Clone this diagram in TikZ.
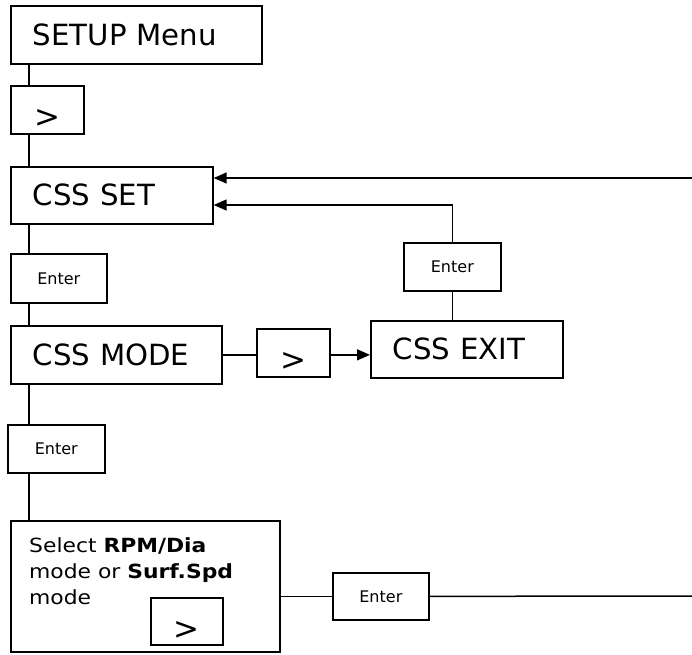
\documentclass[tikz,border=0pt]{standalone}
\usepackage{fontspec}
\setmainfont{DejaVu Sans}
\newfontfamily\selfont[FakeStretch=1.12]{DejaVu Sans}
\usetikzlibrary{arrows.meta}
\tikzset{
  box/.style={draw, line width=1.7pt, anchor=north west, inner ysep=0pt, align=left},
  bigbox/.style={box, font=\fontsize{29.2}{31}\selectfont, text height=21pt, text depth=0pt, inner xsep=22pt},
  gtbox/.style={box, font=\fontsize{31}{33}\selectfont, align=center, inner xsep=0pt, text height=36pt, text depth=0pt},
  enterbox/.style={box, font=\fontsize{16}{18}\selectfont, align=center, inner xsep=0pt, text height=11.5pt, text depth=0pt},
  conn/.style={line width=1.5pt},
  arr/.style={conn, -{Triangle[length=13pt,width=11pt]}}
}
\begin{document}
\begin{tikzpicture}[x=1pt,y=-1pt]
\useasboundingbox (0,0) rectangle (692,654);
\coordinate (xl) at (29,0);
\coordinate (r1) at (692,178);
\coordinate (r2) at (692,596);
\coordinate (ret) at (0,205);
% boxes
\node[bigbox, text width=207pt, minimum height=58pt] (setup) at (10,5) {SETUP Menu};
\node[gtbox, text width=73pt, minimum height=48pt] (gt1) at (10,85) {>};
\node[bigbox, text width=158pt, minimum height=57pt] (cssset) at (10,166) {CSS SET};
\node[enterbox, text width=96pt, minimum height=49pt] (enter1) at (10,253) {Enter};
\node[bigbox, text width=167pt, minimum height=58pt] (cssmode) at (10,325) {CSS MODE};
\node[gtbox, text width=73pt, minimum height=48pt] (gt2) at (256,328) {>};
\node[bigbox, text width=148pt, minimum height=57pt] (cssexit) at (370,320) {CSS EXIT};
\node[enterbox, text width=97pt, minimum height=48pt] (enter2) at (403,242) {Enter};
\node[enterbox, text width=97pt, minimum height=48pt] (enter3) at (7,424) {Enter};
\node[box, minimum width=269pt, minimum height=131pt, inner sep=0pt] (big) at (10,520) {};
\node[anchor=north west, inner sep=0pt, align=left, font=\selfont\fontsize{19.5}{26}\selectfont] (bigtext) at (29,537)
  {Select \textbf{RPM/Dia}\\mode or \textbf{Surf.Spd}\\mode};
\node[gtbox, text width=72pt, minimum height=47pt] (gt3) at (150,597) {>};
\node[enterbox, text width=96pt, minimum height=47pt] (enter4) at (332,572) {Enter};
% connectors
\draw[conn] (setup.south -| xl) -- (gt1.north -| xl);
\draw[conn] (gt1.south -| xl) -- (cssset.north -| xl);
\draw[conn] (cssset.south -| xl) -- (enter1.north -| xl);
\draw[conn] (enter1.south -| xl) -- (cssmode.north -| xl);
\draw[conn] (cssmode.south -| xl) -- (enter3.north -| xl);
\draw[conn] (enter3.south -| xl) -- (big.north -| xl);
\draw[conn] (cssmode.east) -- (gt2.west |- cssmode.east);
\draw[arr] (gt2.east |- cssmode.east) -- (cssexit.west |- cssmode.east);
\draw[conn] (cssexit.north -| enter2.south) -- (enter2.south);
\draw[arr] (enter2.north) |- (cssset.east |- ret);
\draw[arr] (r1) -- (cssset.east |- r1);
\draw[conn] (big.east |- enter4.west) -- (enter4.west);
\draw[conn] (enter4.east) -- (r2);
\end{tikzpicture}
\end{document}
